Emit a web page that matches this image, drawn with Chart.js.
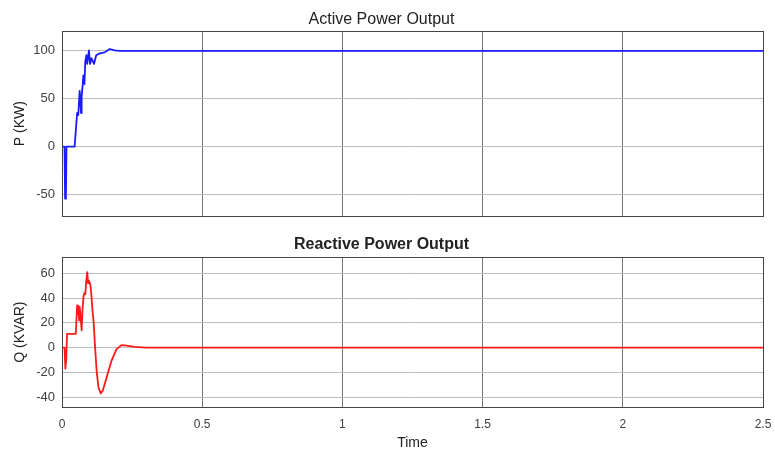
<!DOCTYPE html>
<html>
<head>
<meta charset="utf-8">
<script src="https://cdn.jsdelivr.net/npm/chart.js@4/dist/chart.umd.min.js"></script>
<style>
  body { margin: 0; background: #fff; }
  .box { position: absolute; left: 0; width: 775px; }
  #top { top: 0; height: 218px; }
  #bottom { top: 230px; height: 222px; }
</style>
</head>
<body>
<div class="box" id="top"><canvas id="pChart"></canvas></div>
<div class="box" id="bottom"><canvas id="qChart"></canvas></div>
<script>
// active power P (kW) vs time (s)
var pTime = [0, 0.009, 0.011, 0.014, 0.016, 0.045, 0.054, 0.058, 0.063, 0.068, 0.07, 0.074, 0.076, 0.08, 0.083, 0.087, 0.09, 0.096, 0.1, 0.105, 0.108, 0.114, 0.122, 0.135, 0.152, 0.17, 0.188, 0.206, 2.5];
var pValues = [0, 0, -54, -50, 0, 0, 35, 33, 58, 35, 52, 65, 74, 65, 88, 95, 86, 100, 86, 92, 90, 86, 95, 97, 98, 101.5, 100, 99.5, 99.5];

// reactive power Q (kVAR) vs time (s)
var qTime = [0, 0.009, 0.012, 0.015, 0.018, 0.049, 0.054, 0.057, 0.059, 0.061, 0.063, 0.066, 0.07, 0.073, 0.077, 0.08, 0.083, 0.087, 0.09, 0.093, 0.096, 0.101, 0.104, 0.108, 0.113, 0.118, 0.124, 0.13, 0.138, 0.145, 0.158, 0.176, 0.194, 0.212, 0.23, 0.26, 0.3, 2.5];
var qValues = [0, 0, -17, -10, 11, 11, 34, 27, 32, 22, 33, 26, 14, 30, 42, 44, 43, 55, 61, 52, 54, 51, 45, 32, 20, 0, -20, -32, -37, -35, -25, -11, -1.5, 2, 1.5, 0.5, 0, 0];

var timeTicks = [0, 0.5, 1, 1.5, 2, 2.5];
var pTicks = [-50, 0, 50, 100];
var qTicks = [-40, -20, 0, 20, 40, 60];

Chart.defaults.font.family = "'Liberation Sans', Arial, sans-serif";
Chart.defaults.color = '#404040';

// MATLAB-like box around the plot area
var frame = {
    id: 'frame',
    afterDraw: function(chart) {
        var a = chart.chartArea, c = chart.ctx;
        c.save();
        c.strokeStyle = '#444';
        c.lineWidth = 1;
        c.strokeRect(Math.round(a.left) + 0.5, Math.round(a.top) + 0.5, Math.round(a.right - a.left), Math.round(a.bottom - a.top));
        c.restore();
    }
};

function points(xs, ys) {
    return xs.map(function(x, i) { return {x: x, y: ys[i]}; });
}

function makeChart(id, opts) {
    return new Chart(document.getElementById(id), {
        type: 'line',
        data: {
            datasets: [{
                data: points(opts.time, opts.values),
                borderColor: opts.color,
                borderWidth: 1.8,
                borderJoinStyle: 'round',
                pointRadius: 0,
                tension: 0
            }]
        },
        options: {
            responsive: true,
            maintainAspectRatio: false,
            animation: false,
            layout: { padding: { left: 0, right: 12, top: 0, bottom: opts.bottomPad } },
            plugins: {
                legend: { display: false },
                tooltip: { enabled: false },
                title: {
                    display: true,
                    text: opts.title,
                    color: '#222',
                    font: { size: 16, weight: opts.titleWeight },
                    padding: opts.titlePad
                }
            },
            scales: {
                x: {
                    type: 'linear',
                    min: 0,
                    max: 2.5,
                    afterBuildTicks: function(s) { s.ticks = timeTicks.map(function(v) { return {value: v}; }); },
                    afterFit: function(s) { s.height = opts.xHeight; s.paddingLeft = 0; s.paddingRight = 0; },
                    grid: { color: '#777', drawTicks: false },
                    border: { display: false },
                    ticks: {
                        display: opts.showX, padding: 10, font: { size: 12 },
                        callback: function(v) { return String(v); }
                    },
                    title: { display: opts.showX, text: 'Time', color: '#222', font: { size: 14 }, padding: { top: 0, bottom: 0 } }
                },
                y: {
                    min: opts.min,
                    max: opts.max,
                    afterBuildTicks: function(s) { s.ticks = opts.ticks.map(function(v) { return {value: v}; }); },
                    afterFit: function(s) { s.width = 62; s.paddingTop = 0; s.paddingBottom = 0; },
                    grid: { color: '#bdbdbd', drawTicks: false },
                    border: { display: false },
                    ticks: { padding: 7, font: { size: 13 } },
                    title: { display: true, text: opts.yLabel, color: '#222', font: { size: 14 }, padding: { top: 12, bottom: 0 } }
                }
            }
        },
        plugins: [frame]
    });
}

makeChart('pChart', {
    time: pTime, values: pValues, color: '#1a1aff',
    title: 'Active Power Output', titleWeight: 'normal', titlePad: { top: 10, bottom: 2 },
    min: -72, max: 120, ticks: pTicks, yLabel: 'P (KW)',
    showX: false, xHeight: 0, bottomPad: 2
});

makeChart('qChart', {
    time: qTime, values: qValues, color: '#ff1a1a',
    title: 'Reactive Power Output', titleWeight: 'bold', titlePad: { top: 5, bottom: 3 },
    min: -48, max: 73, ticks: qTicks, yLabel: 'Q (KVAR)',
    showX: true, xHeight: 45, bottomPad: 0
});
</script>
</body>
</html>
